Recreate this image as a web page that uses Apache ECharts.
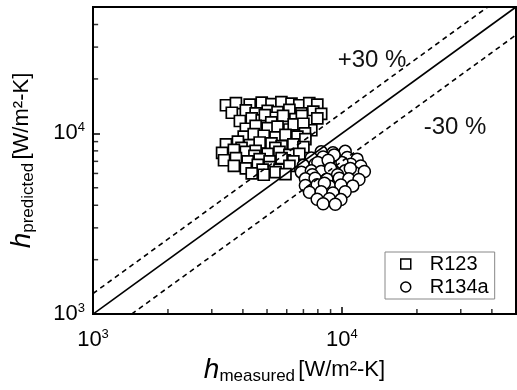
<!DOCTYPE html>
<html>
<head>
<meta charset="utf-8">
<script src="https://cdn.jsdelivr.net/npm/echarts@6/dist/echarts.min.js"></script>
<style>
  html, body { margin: 0; padding: 0; background: #fff; }
  #chart { width: 517px; height: 390px; }
</style>
</head>
<body>
<div id="chart"></div>
<script>
// 数据：R123 方块 / R134a 圆圈，坐标为 [h_measured, h_predicted]
var r123Points = [
  [3420,14300],[3750,14700],[4260,14400],[4760,14800],[5210,14500],[5710,14900],[6270,14600],[6740,14300],[7390,14700],[7960,14400],
  [3610,13000],[4110,13400],[4500,12900],[5030,13300],[5510,13100],[6150,13500],[6870,12900],[7670,13200],[8250,12800],
  [3890,11700],[4340,12100],[4760,11800],[5310,12200],[5930,11600],[6500,12000],[7260,11700],[7960,12100],
  [4900,12600],[5800,12500],[6900,12500],[5200,11500],
  [4110,10600],[4500,11000],[5030,10700],[5510,10900],[6150,10500],[6740,10800],[7530,10400],
  [6400,11200],[7000,11300],[7100,10000],
  [4030,9600],[4420,9900],[4850,9700],[5410,9500],[5930,9800],[6620,9600],[7130,9300],
  [3420,8700],[3820,9000],[4260,8600],[4670,8900],[5210,8800],[5720,8500],[6380,8700],[7000,8400],
  [3950,8300],[5400,8300],
  [3300,7800],[3680,8100],[4110,7900],[4500,8000],[5030,7700],[5610,7900],[6150,7600],[6740,7700],
  [4450,7500],[5900,7100],
  [3360,7100],[3750,7300],[4180,7000],[4670,7200],[5120,7000],[5720,7300],[6380,7000],
  [3680,6600],[4110,6400],[4590,6700],[5120,6500],[5610,6300],[6150,6600],[4800,6300],
  [4340,6000],[4850,5900],[5410,6100],[5930,5950]
];
var r134aPoints = [
  [8250,7900],[9200,7800],[10300,7950],
  [7530,7300],[8400,7400],[9400,7250],[10500,7350],[11500,7200],
  [7000,6650],[7800,6750],[8700,6700],[9750,6650],[10850,6750],[11900,6600],
  [8000,6900],[10000,6900],[9300,7600],[8800,7100],
  [6870,6100],[7530,6200],[8250,6150],[9200,6100],[10300,6200],[11250,6050],[12300,6150],
  [9000,6400],[10800,6400],[7600,5900],[9600,5900],
  [7130,5600],[7800,5650],[8700,5580],[9750,5650],[10650,5600],[11700,5550],
  [7130,5150],[7950,5200],[8900,5100],[9900,5180],[11050,5120],[8500,5300],
  [7400,4720],[8250,4750],[9200,4680],[10300,4750],
  [7950,4320],[8900,4350],[9900,4300],
  [8400,4080],[9400,4050]
];
var axisMin = 1000, axisMax = 50000;
var minorTicks = [2000,3000,4000,5000,6000,7000,8000,9000,20000,30000,40000];
var bandFactors = [1.3, 0.7];   // +30 % / -30 %

var FONT = '"Liberation Sans", Arial, sans-serif';

// 对角线和 ±30% 线
function ratioLine(k) {
  var x0 = Math.max(axisMin, axisMin / k), x1 = Math.min(axisMax, axisMax / k);
  return [[x0, x0 * k], [x1, x1 * k]];
}

function tickLabel(v) {
  var e = Math.log10(v);
  if (Math.abs(e - Math.round(e)) > 1e-6) return '';
  return '{b|10}{s|' + Math.round(e) + '}';
}
var tickRich = {
  b: { fontSize: 22, fontFamily: FONT, color: '#000', lineHeight: 24 },
  s: { fontSize: 13, fontFamily: FONT, color: '#000', verticalAlign: 'top', lineHeight: 12 }
};
var nameRich = {
  h: { fontSize: 28, fontFamily: FONT, fontStyle: 'italic', color: '#000', lineHeight: 30 },
  sub: { fontSize: 17, fontFamily: FONT, color: '#000', verticalAlign: 'bottom', lineHeight: 20 },
  u: { fontSize: 22, fontFamily: FONT, color: '#000', lineHeight: 30 }
};

// 次刻度：用散点小矩形画在坐标轴内侧
// 正好落在轴最小值上的点会被丢掉，所以基准稍微往里挪一点，再用 symbolOffset 拉回轴线
var tickBase = axisMin * 1.02;
function tickSeries(isX) {
  return {
    type: 'scatter',
    silent: true,
    clip: false,
    symbol: 'rect',
    symbolSize: isX ? [1.5, 5] : [5, 1.5],
    symbolOffset: isX ? [0, -1] : [0.5, 0],
    itemStyle: { color: '#000' },
    z: 10,
    data: minorTicks.map(function(v) { return isX ? [v, tickBase] : [tickBase, v]; })
  };
}

var myChart = echarts.init(document.getElementById('chart'));
myChart.setOption({
  backgroundColor: '#fff',
  animation: false,
  grid: {
    show: true,
    left: 92, right: 1, top: 7, bottom: 69,
    borderColor: '#000',
    borderWidth: 2
  },
  xAxis: {
    type: 'log',
    logBase: 10,
    min: axisMin,
    max: axisMax,
    name: '{h|h}{sub|measured} {u|[W/m²-K]}',
    nameLocation: 'middle',
    nameGap: 40,
    nameTextStyle: { rich: nameRich, padding: [0, 20, 0, 0] },
    axisLine: { lineStyle: { color: '#000', width: 2 } },
    axisTick: { show: true, inside: true, length: 7, lineStyle: { color: '#000', width: 1.5 } },
    axisLabel: { formatter: tickLabel, rich: tickRich, margin: 14, showMaxLabel: false },
    splitLine: { show: false }
  },
  yAxis: {
    type: 'log',
    logBase: 10,
    min: axisMin,
    max: axisMax,
    name: '{h|h}{sub|predicted} {u|[W/m²-K]}',
    nameLocation: 'middle',
    nameGap: 56,
    nameTextStyle: { rich: nameRich },
    axisLine: { lineStyle: { color: '#000', width: 2 } },
    axisTick: { show: true, inside: true, length: 7, lineStyle: { color: '#000', width: 1.5 } },
    axisLabel: { formatter: tickLabel, rich: tickRich, margin: 8, showMaxLabel: false },
    splitLine: { show: false }
  },
  legend: {
    data: ['R123', 'R134a'],
    orient: 'vertical',
    left: 385,
    top: 252,
    padding: [2, 6, 2, 15],
    itemGap: 3,
    itemWidth: 10,
    itemHeight: 10,
    backgroundColor: '#fff',
    borderColor: '#888',
    borderWidth: 1,
    borderRadius: 0,
    itemStyle: { color: '#fff', borderColor: '#000', borderWidth: 1.5 },
    textStyle: { fontSize: 20, fontFamily: FONT, color: '#000', padding: [0, 0, 0, 14] }
  },
  graphic: [
    { type: 'text', x: 372, y: 60, style: { text: '+30 %', font: '24px ' + FONT, fill: '#111', align: 'center', verticalAlign: 'middle' } },
    { type: 'text', x: 455, y: 127, style: { text: '-30 %', font: '24px ' + FONT, fill: '#111', align: 'center', verticalAlign: 'middle' } }
  ],
  series: [
    {
      type: 'line', silent: true, showSymbol: false,
      data: ratioLine(1),
      lineStyle: { color: '#000', width: 1.6 }
    },
    {
      type: 'line', silent: true, showSymbol: false,
      data: ratioLine(bandFactors[0]),
      lineStyle: { color: '#000', width: 1.6, type: [5, 4] }
    },
    {
      type: 'line', silent: true, showSymbol: false,
      data: ratioLine(bandFactors[1]),
      lineStyle: { color: '#000', width: 1.6, type: [5, 4] }
    },
    {
      name: 'R123',
      type: 'scatter',
      symbol: 'rect',
      symbolSize: 11,
      data: r123Points,
      itemStyle: { color: '#fff', borderColor: '#000', borderWidth: 1.7, opacity: 1 }
    },
    {
      name: 'R134a',
      type: 'scatter',
      symbol: 'circle',
      symbolSize: 12,
      data: r134aPoints,
      itemStyle: { color: '#fff', borderColor: '#000', borderWidth: 1.5, opacity: 1 }
    },
    tickSeries(true),
    tickSeries(false)
  ]
});
window.onresize = function() {
  myChart.resize();
};
</script>
</body>
</html>
